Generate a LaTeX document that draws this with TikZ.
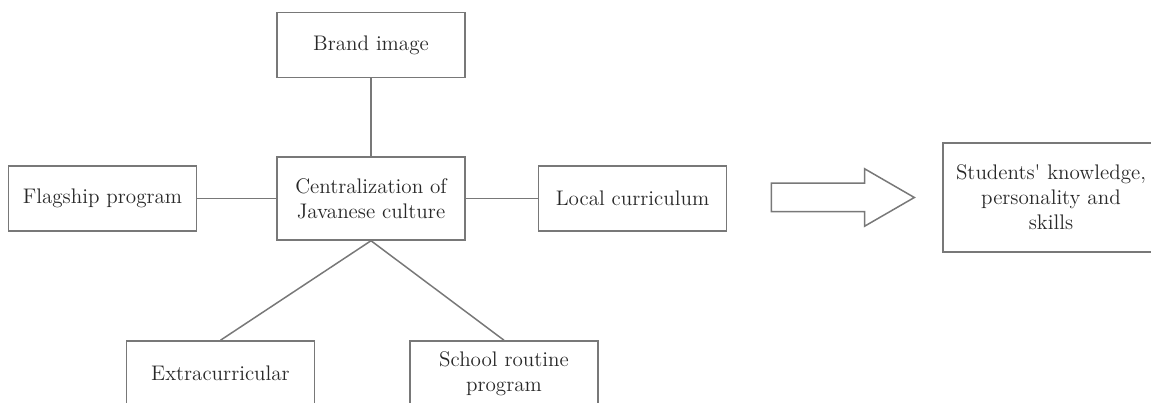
\documentclass[tikz,border=0pt]{standalone}
\usepackage{xcolor}
\usepackage{tikz}
\usetikzlibrary{shapes.arrows, positioning}
\definecolor{linegray}{RGB}{120,120,120}
\definecolor{textgray}{RGB}{40,40,40}
\tikzset{
  cbox/.style={rectangle,draw=linegray,line width=0.85pt,fill=white,text=textgray,align=center,minimum width=3.76cm,minimum height=1.3cm,inner sep=0pt,font=\fontsize{12}{14.2}\selectfont},
  link/.style={draw=linegray,line width=0.85pt},
  flowarrow/.style={single arrow,draw=linegray,line width=0.85pt,fill=white,minimum height=2.86cm,inner sep=0pt,inner ysep=0.27cm,single arrow head extend=0.29cm,single arrow tip angle=60}
}

\begin{document}
\begin{tikzpicture}
  \useasboundingbox (0,0) rectangle (23.02,8.06);
  \clip (0,0) rectangle (23.02,8.06);

  \node[cbox, minimum height=1.66cm] (center) at (7.42,4.09) {Centralization of\\Javanese culture};

  \node[cbox, above=1.56cm of center] (brand) {Brand image};
  \node[cbox, left=1.58cm of center]  (flag)  {Flagship program};
  \node[cbox, right=1.44cm of center] (local) {Local curriculum};

  \node[cbox] (extra)  at (4.41,0.59)  {Extracurricular};
  \node[cbox] (school) at (10.08,0.59) {School routine\\program};

  \node[flowarrow] (flow) at (16.61,4.11) {};
  \node[cbox, minimum width=4.32cm, minimum height=2.18cm] (result) at (21.02,4.11)
    {Students\textquotesingle{} knowledge,\\personality and\\skills};

  \foreach \s/\t in {brand/center,flag/center,center/local}
    \draw[link] (\s) -- (\t);
  \draw[link] (center.south) -- (extra.north);
  \draw[link] (center.south) -- (school.north);
\end{tikzpicture}
\end{document}
